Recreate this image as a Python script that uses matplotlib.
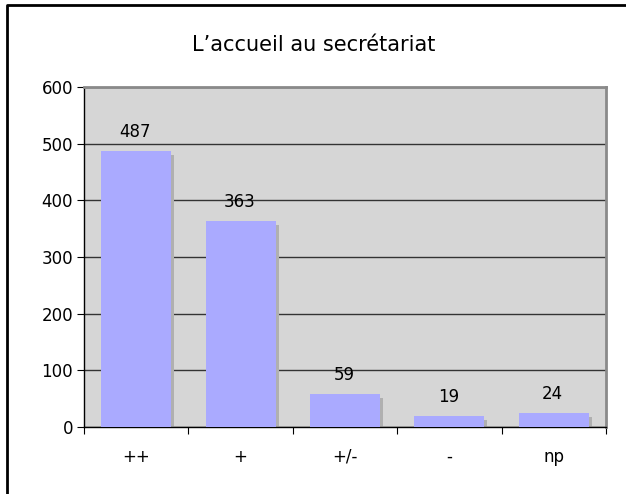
import matplotlib.pyplot as plt
import matplotlib.transforms as mtransforms
from matplotlib.lines import Line2D

categories = ["++", "+", "+/-", "-", "np"]
counts = [487, 363, 59, 19, 24]
yticks = [0, 100, 200, 300, 400, 500, 600]

plt.rcParams['font.family'] = ['DejaVu Sans']

fig = plt.figure(figsize=(6.26, 4.94), dpi=100)
fig.patch.set_facecolor("white")

# outer frame: only the top and left edges show in the original
fx, fy = 7 / 626, 1 - 5 / 494
fig.lines.append(Line2D([fx, fx, 1.0], [0.0, fy, fy], transform=fig.transFigure,
                        color="black", linewidth=2))

ax = fig.add_axes([84 / 626, 67 / 494, 522 / 626, 340 / 494])
ax.set_facecolor("#d6d6d6")

x = range(len(categories))
width = 0.67

# grey shadow behind each bar
shadow = mtransforms.offset_copy(ax.transData, fig=fig, x=3, y=-4, units='dots')
ax.bar(x, counts, width=width, color="#b0b0b0", transform=shadow, zorder=2)
ax.bar(x, counts, width=width, color="#aaaaff", zorder=3)

for i, v in enumerate(counts):
    ax.annotate(str(v), (i, v), xytext=(-1, 10), textcoords="offset pixels",
                ha="center", va="bottom", fontsize=12, zorder=5)

ax.set_xlim(-0.5, len(categories) - 0.5)
ax.set_ylim(0, 600)
ax.set_yticks(yticks)
ax.yaxis.grid(True, color="#333333", linewidth=1)
ax.set_axisbelow(True)

ax.set_xticks([i - 0.5 for i in range(len(categories) + 1)])
ax.set_xticklabels([])
ax.set_xticks(list(x), minor=True)
ax.set_xticklabels(categories, minor=True)
ax.tick_params(axis="x", which="major", direction="out", length=5, color="black")
ax.tick_params(axis="x", which="minor", length=0, pad=15, labelsize=12)
ax.tick_params(axis="y", direction="out", length=5, labelsize=12, pad=3)

for side in ["top", "right"]:
    ax.spines[side].set_color("#8a8a8a")
    ax.spines[side].set_linewidth(2)
for side in ["left", "bottom"]:
    ax.spines[side].set_color("black")
    ax.spines[side].set_linewidth(1)

fig.text(314 / 626, 1 - 45 / 494, "L\u2019accueil au secr\u00e9tariat",
         ha="center", va="center", fontsize=15)

fig.savefig("out.png", dpi=100)
